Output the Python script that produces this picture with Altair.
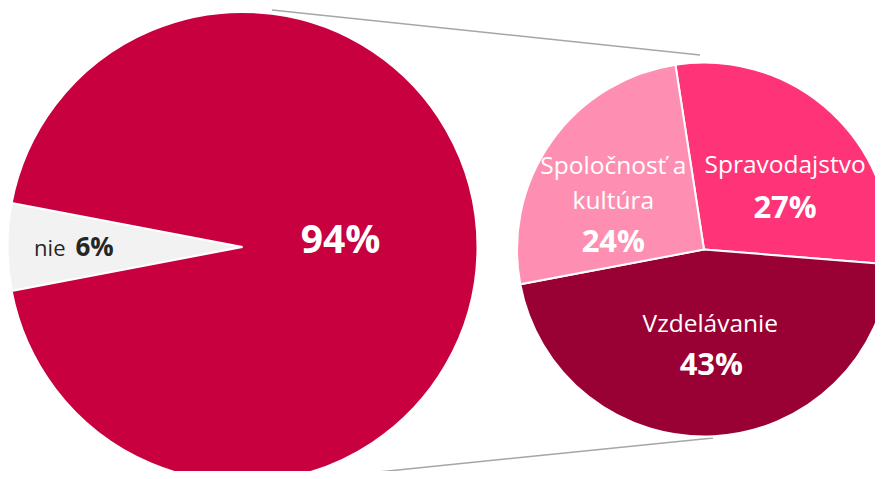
import math
import altair as alt
import pandas as pd

# ---- data ----
big_cats = ["nie", "áno"]
big_vals = [6, 94]
big_colors = ["#F2F2F2", "#C8003F"]

small_cats = ["Spravodajstvo", "Vzdelávanie", "Spoločnosť a kultúra"]
small_vals = [27, 43, 24]
small_colors = ["#FF3377", "#990033", "#FF8FB2"]
small_names = ["Spravodajstvo", "Vzdelávanie", "Spoločnosť a\nkultúra"]

big_df = pd.DataFrame({
    "cat": big_cats, "value": big_vals, "color": big_colors,
    "ord": list(range(len(big_cats))), "pct": [f"{v}%" for v in big_vals],
    "name": big_cats,
})
small_df = pd.DataFrame({
    "cat": small_cats, "value": small_vals, "color": small_colors,
    "ord": list(range(len(small_cats))), "pct": [f"{v}%" for v in small_vals],
    "name": small_names,
})

# ---- layout ----
W, H = 867, 463
FONT = "Open Sans"
BIG_C = (234.5, 239)
BIG_R = 235
SMALL_C = (696, 241.5)
SMALL_R = 187
BIG_START = math.radians(259.2)
SMALL_START = 2 * math.pi + math.radians(-8.8)
TWO_PI = 2 * math.pi


def pie(df, c, r, start):
    return alt.Chart(df).mark_arc(radius=r, stroke="white", strokeWidth=2).encode(
        theta=alt.Theta("value:Q", stack=True,
                        scale=alt.Scale(range=[start, start + TWO_PI])),
        color=alt.Color("color:N", scale=None),
        order=alt.Order("ord:Q"),
        x=alt.value(c[0]),
        y=alt.value(c[1]),
    )


def label(df, c, start, cat, field, size, weight, color, dx, dy,
          r_lab=100, align="center"):
    total = float(df["value"].sum())
    return alt.Chart(df).transform_window(
        cum="sum(value)", sort=[alt.SortField("ord", order="ascending")],
        frame=[None, 0]
    ).transform_calculate(
        mid="datum.cum - datum.value / 2"
    ).transform_filter(
        alt.datum.cat == cat
    ).mark_text(
        radius=r_lab, fontSize=size, fontWeight=weight, color=color,
        dx=dx, dy=dy, align=align, baseline="alphabetic", font=FONT,
        lineBreak="\n", lineHeight=35,
    ).encode(
        theta=alt.Theta("mid:Q", scale=alt.Scale(domain=[0, total],
                                                 range=[start, start + TWO_PI])),
        text=alt.Text(f"{field}:N"),
        x=alt.value(c[0]),
        y=alt.value(c[1]),
    )


dummy = pd.DataFrame({"a": [0]})
rule_top = alt.Chart(dummy).mark_rule(color="#A6A6A6", strokeWidth=1.5).encode(
    x=alt.value(264), y=alt.value(2), x2=alt.value(692), y2=alt.value(47)
)
rule_bot = alt.Chart(dummy).mark_rule(color="#A6A6A6", strokeWidth=1.5).encode(
    x=alt.value(262), y=alt.value(475), x2=alt.value(705), y2=alt.value(430)
)

NAME_SIZE = 24.5
PCT_SIZE = 31

layers = [
    rule_top, rule_bot,
    pie(big_df, BIG_C, BIG_R, BIG_START),
    pie(small_df, SMALL_C, SMALL_R, SMALL_START),
    # big pie labels
    label(big_df, BIG_C, BIG_START, "áno", "pct", 39, "bold", "white", 0, 6, r_lab=98),
    label(big_df, BIG_C, BIG_START, "nie", "name", 22, "normal", "#262626", -4, 9,
          r_lab=173, align="right"),
    label(big_df, BIG_C, BIG_START, "nie", "pct", 26, "bold", "#262626", 6, 9,
          r_lab=173, align="left"),
    # small pie labels
    label(small_df, SMALL_C, SMALL_START, "Spravodajstvo", "name", NAME_SIZE, "normal", "white", 13, -3),
    label(small_df, SMALL_C, SMALL_START, "Spravodajstvo", "pct", PCT_SIZE, "bold", "white", 13, 42),
    label(small_df, SMALL_C, SMALL_START, "Vzdelávanie", "name", NAME_SIZE, "normal", "white", 1, -17),
    label(small_df, SMALL_C, SMALL_START, "Vzdelávanie", "pct", PCT_SIZE, "bold", "white", 2, 26),
    label(small_df, SMALL_C, SMALL_START, "Spoločnosť a kultúra", "name", NAME_SIZE, "normal", "white", -9, -18),
    label(small_df, SMALL_C, SMALL_START, "Spoločnosť a kultúra", "pct", PCT_SIZE, "bold", "white", -9, 60),
]

chart = alt.layer(*layers).resolve_scale(
    theta="independent", color="independent"
).properties(
    width=W, height=H, padding=0, background="white",
    autosize=alt.AutoSizeParams(type="none"),
).configure_view(stroke=None)

chart.save("out.html", embed_options={"renderer": "svg", "actions": False})
